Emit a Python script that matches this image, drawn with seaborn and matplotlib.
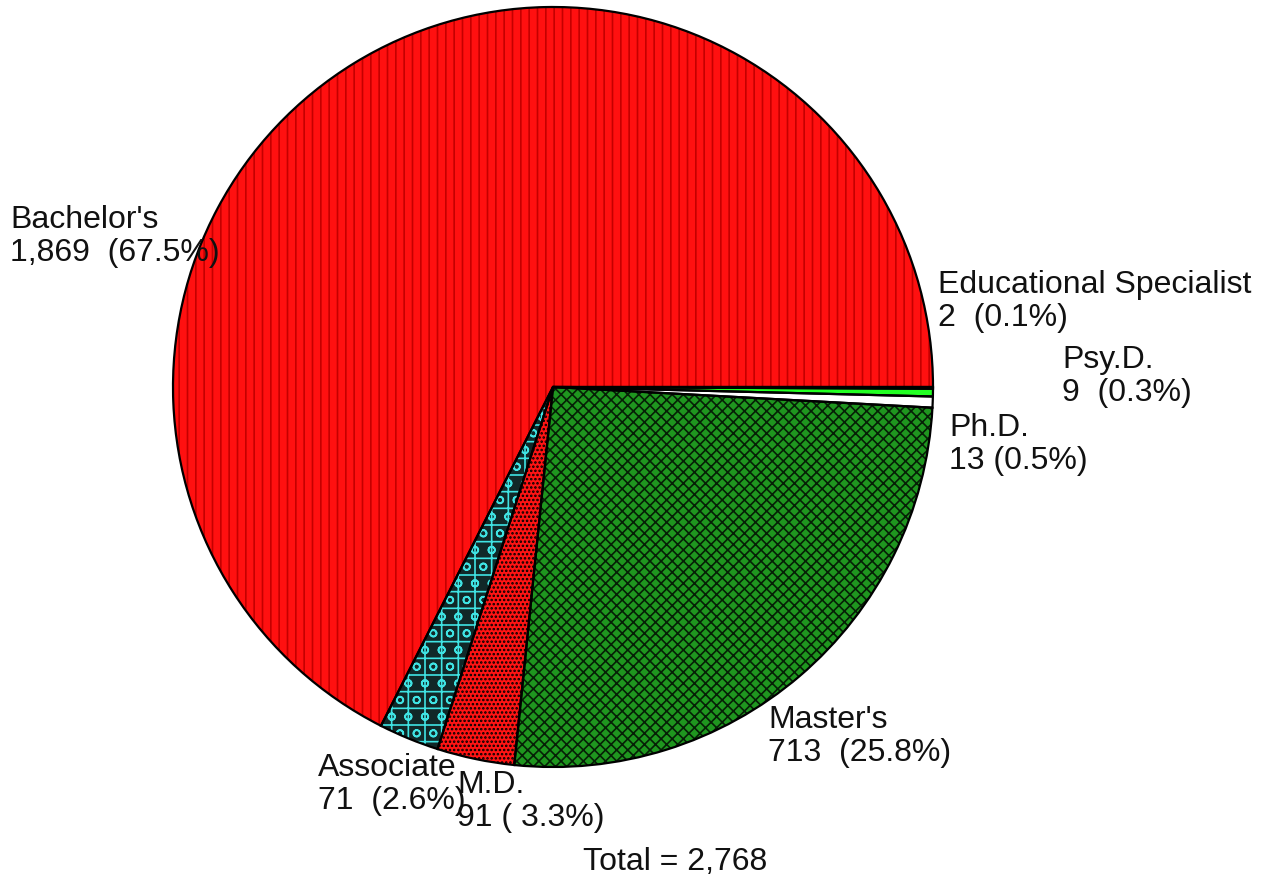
import matplotlib
matplotlib.use("Agg")
import matplotlib.pyplot as plt
import seaborn as sns

# ===========================
# DATA
# ===========================
degrees = ["Bachelor's", "Associate", "M.D.", "Master's", "Ph.D.", "Psy.D.",
           "Educational Specialist"]
counts = [1869, 71, 91, 713, 13, 9, 2]
count_text = ["1,869  (67.5%)", "71  (2.6%)", "91 ( 3.3%)", "713  (25.8%)",
              "13 (0.5%)", "9  (0.3%)", "2  (0.1%)"]
total_text = "Total = 2,768"

# ===========================
# STYLE
# ===========================
face_colors = ["#ff1010", "#112828", "#ff1414", "#1f961f", "#ffffff", "#22ff22", "#ff1010"]
hatch_colors = ["#c40000", "#3fe3e3", "#000000", "#062006", "#ffffff", "#22ff22", "#c40000"]
hatches = ["||", "o+", "....", "xxx", "", "", "||"]

# label anchor (left, cap top) in pixels of the 1275x877 picture
label_px = [(10, 205), (318, 753), (457, 770), (768, 705),
            (949, 413), (1062, 345), (938, 270)]
total_px = (583, 847)

W, H = 1275, 877
CX, CY, R = 553, 387, 380

sns.set_theme(style="white")
plt.rcParams["font.family"] = ["Liberation Sans", "DejaVu Sans"]
plt.rcParams["hatch.linewidth"] = 1.2

fig = plt.figure(figsize=(W / 100, H / 100), dpi=100)
ax = fig.add_axes([0, 0, 1, 1])

# fill + hatch pass
wedges, _ = ax.pie(counts, startangle=0, counterclock=True, radius=1,
                   colors=face_colors, wedgeprops=dict(linewidth=0))
for w, hc, h in zip(wedges, hatch_colors, hatches):
    w.set_edgecolor(hc)
    w.set_hatch(h)
    w.set_linewidth(0)

# outline pass
ax.pie(counts, startangle=0, counterclock=True, radius=1,
       colors=["none"] * len(counts),
       wedgeprops=dict(edgecolor="black", linewidth=1.6, fill=False))

ax.set_xlim(-CX / R, (W - CX) / R)
ax.set_ylim(-(H - CY) / R, CY / R)
ax.set_aspect("equal")
ax.axis("off")


def px2data(px, py):
    return (px - CX) / R, (CY - py) / R


for name, txt, (px, py) in zip(degrees, count_text, label_px):
    x, y = px2data(px, py)
    ax.text(x, y, f"{name}\n{txt}", ha="left", va="top", fontsize=23,
            color="#111111", linespacing=1.12)

x, y = px2data(*total_px)
ax.text(x, y, total_text, ha="left", va="top", fontsize=23, color="#111111")

fig.savefig("out.png", dpi=100, facecolor="white")
